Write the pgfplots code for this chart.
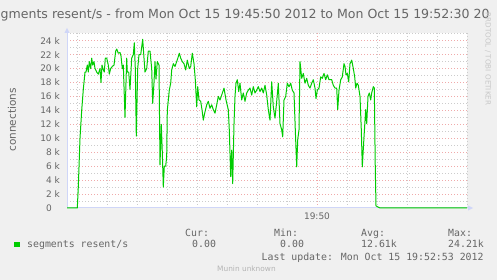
\documentclass[border=0pt]{standalone}
\usepackage{pgfplots}
\pgfplotsset{compat=1.18}
\usepackage{fontspec}
\setmainfont{DejaVu Sans}
\newfontfamily\monofont{DejaVu Sans Mono}
\definecolor{bg}{HTML}{F0F0F0}
\definecolor{fontgrey}{HTML}{666666}
\definecolor{axiscol}{HTML}{CFD6F8}
\definecolor{gridgrey}{HTML}{CCCCCC}
\definecolor{gridred}{HTML}{F0AAAA}
\definecolor{linegreen}{HTML}{00CC00}
\definecolor{wmgrey}{HTML}{C8C8C8}
\definecolor{muningrey}{HTML}{B4B4B4}
\begin{document}
\begin{tikzpicture}[x=1pt,y=1pt]
\fill[bg] (0,0) rectangle (497,280);
\useasboundingbox (0,0) rectangle (497,280);
\begin{scope}
\clip (0,0) rectangle (497,280);
\node[anchor=base west, inner sep=0pt, font=\fontsize{12.55}{14}\selectfont, text=fontgrey] at (0.5,261.7) {gments resent/s - from Mon Oct 15 19:45:50 2012 to Mon Oct 15 19:52:30 20};
\end{scope}
\begin{axis}[
  at={(67pt,72pt)}, anchor=south west,
  scale only axis, width=400pt, height=175pt,
  xmin=0, xmax=400, ymin=0, ymax=25100,
  scaled y ticks=false, scaled x ticks=false,
  clip=false,
  axis line style={draw=none},
  axis background/.style={fill=white},
  major tick length=0pt, minor tick length=0pt,
  xtick={250}, xticklabels={19:50},
  minor xtick={10,40,70,100,130,160,190,220,280,310,340,370,400},
  ytick={0,2000,4000,6000,8000,10000,12000,14000,16000,18000,20000,22000,24000},
  yticklabels={0\phantom{\ k},2 k,4 k,6 k,8 k,10 k,12 k,14 k,16 k,18 k,20 k,22 k,24 k},
  minor ytick={1000,3000,5000,7000,9000,11000,13000,15000,17000,19000,21000,23000,25000},
  grid=both,
  major grid style={draw=gridred, line width=1pt, dash pattern=on 1pt off 2pt},
  minor grid style={draw=gridgrey, line width=1pt, dash pattern=on 1pt off 2pt},
  tick label style={font=\fontsize{9}{10}\selectfont, text=fontgrey},
  yticklabel style={inner sep=0pt, xshift=-7pt},
  xticklabel style={inner sep=0pt, yshift=-5pt},
]
\draw[axiscol, line width=1pt] (axis cs:0,0) -- (axis cs:402,0);
\fill[axiscol] (axis cs:406,0) -- ++(-5pt,2.6pt) -- ++(0pt,-5.2pt) -- cycle;
\draw[axiscol, line width=1pt] (axis cs:0,0) -- (axis cs:0,25300);
\fill[axiscol] (axis cs:0,25817) -- ++(-2.6pt,-5pt) -- ++(5.2pt,0pt) -- cycle;
\addplot[linegreen, line width=1pt, line join=round, mark=none] coordinates {
(0,0) (10.3,0) (11.3,3000) (13,10000) (14.7,14000) (16.3,17000) (18,19500)
(19,19500) (20.3,20500) (21.3,19500) (22.3,21000) (23.7,20000) (24.7,21500)
(25.7,20500) (27,21000) (28,20000) (29.7,19500) (31.3,19200) (33,20000)
(34,18000) (35,20500) (36.3,19800) (37.3,19500) (38.3,21500) (39.7,21500)
(41.3,20500) (42.3,19200) (43.7,20000) (45.3,20300) (47,20500) (48.7,22500)
(49.7,22800) (51.3,22200) (53,22300) (54,21800) (55.3,20000) (56.3,20500)
(58,13000) (59.7,21500) (60.3,19500) (61.7,19500) (63,17000) (64.7,21500)
(66.3,22000) (67.3,23700) (68.3,20000) (69.3,10300) (70.7,20000) (72,22000)
(73.7,22000) (75.7,24200) (77,21500) (78,19500) (79.7,20000) (81.3,22500)
(83,22500) (84.7,20000) (85.7,15000) (87,18000) (88,21000) (89,18500)
(90.3,21000) (92,20500) (93,6200) (94.3,12000) (95.3,8000) (96.3,3000)
(97.3,6000) (98.7,6000) (99.7,7400) (100.3,14000) (102.3,16900) (103.7,17900)
(104.7,19800) (106.3,20700) (108,20300) (109.7,21000) (111.3,21700) (112.3,22200)
(113.7,21500) (115.3,21000) (117,20700) (118.7,19800) (120.3,21200) (122.3,20000)
(123.7,20300) (125.3,22200) (127,20700) (128.3,18400) (129.7,14500) (130.7,17400)
(132,15500) (133.7,15300) (135,14100) (136.3,12600) (137.7,13600) (139.7,14800)
(141.3,15300) (143,14300) (144.7,14800) (146.3,14100) (148,13600) (149.7,14800)
(151.3,16000) (153,15500) (154.7,16200) (157,17200) (159,15500) (161.3,14100)
(162.3,11200) (163.7,4500) (164.7,8300) (165.7,3500) (167,12100) (168,16000)
(169,17900) (170.3,18400) (171.7,16700) (173,17900) (174.7,15500) (176.3,16500)
(178,15300) (179.7,16500) (181.3,16900) (183,17200) (184.7,16200) (186.3,17400)
(188,16500) (189.7,16900) (191.3,17400) (193,16700) (194.7,17200) (196.3,16500)
(198,17600) (199.7,16200) (201.3,14100) (203,12600) (204.7,18100) (206.3,14500)
(208,12900) (209.7,15300) (211.3,17900) (213,12100) (214.7,11200) (215.7,10200)
(217,15500) (218.7,16000) (220.3,17900) (222,17400) (223.7,17900) (225.3,16900)
(227,16500) (228.3,11200) (229.7,5900) (230.7,9800) (232,11200) (233,21000)
(234.7,18600) (236.3,19300) (238,17900) (239.7,18600) (241.3,17600) (243,17200)
(244.7,17900) (246.3,18400) (248,17200) (249,15700) (250.3,16900) (252,17200)
(253.7,18800) (255.3,18600) (257,19300) (258.7,18400) (260.3,19100) (262,18400)
(263,18400) (264.7,18400) (266.3,17600) (268,17200) (269.7,17200) (270.7,14100)
(272,16900) (273.7,18400) (275.3,18800) (277,20700) (278,20300) (279,19100)
(280.3,19300) (281.7,18100) (283,20700) (284.7,21200) (286.3,20000) (287.7,18800)
(288.7,17200) (290,17900) (291.3,17600) (293,16000) (294.3,11200) (295.3,5900)
(297,10200) (298.7,14100) (299.7,12100) (301,16000) (302.3,16500) (303.7,15500)
(304.7,16500) (306.3,17400) (307.3,17200) (308.3,5500) (309,300) (310.3,200)
(313,0) (400,0)
};
\end{axis}
\node[rotate=90, font=\fontsize{10.5}{12}\selectfont, text=fontgrey, inner sep=0pt] at (12,160) {connections};
\node[rotate=-90, font=\fontsize{7.2}{8}\selectfont, text=wmgrey, inner sep=0pt] at (488,221) {RRDTOOL / TOBI OETIKER};
\fill[linegreen] (14,32.7) rectangle (20,38.3);
\begin{scope}[every node/.style={inner sep=0pt, anchor=base west, font=\monofont\fontsize{9.87}{11}\selectfont, text=fontgrey}]
\node at (27,32.7) {segments resent/s};
\node at (185,43.3) {Cur:};
\node at (192,32.7) {0.00};
\node at (274,43.3) {Min:};
\node at (280,32.7) {0.00};
\node at (361,43.3) {Avg:};
\node at (361,32.7) {12.61k};
\node at (448,43.3) {Max:};
\node at (448,32.7) {24.21k};
\node at (261.5,19.3) {Last update: Mon Oct 15 19:52:53 2012};
\end{scope}
\node[inner sep=0pt, anchor=base west, font=\fontsize{7.4}{8}\selectfont, text=muningrey] at (217,8.3) {Munin unknown};
\end{tikzpicture}
\end{document}
